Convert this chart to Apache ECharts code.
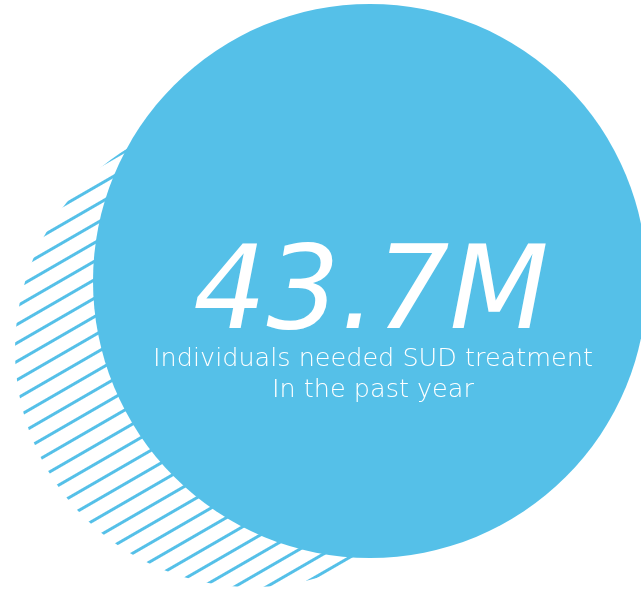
<!DOCTYPE html>
<html lang="en">
<head>
    <meta charset="UTF-8">
    <title>SUD treatment</title>
    <style>
        * { margin: 0; padding: 0; }
        #main { width: 641px; height: 593px; background: #fff; }
    </style>
</head>
<body>
    <div id="main"></div>
    <script src="https://cdn.jsdelivr.net/npm/echarts@6/dist/echarts.min.js"></script>
    <script>
        // the one figure on the card
        var statValue = [43.7];
        var statUnit = ['M'];
        var captionLines = ['Individuals needed SUD treatment', 'In the past year'];

        var blue = '#55c0e8';
        var chart = echarts.init(document.getElementById('main'));

        var option = {
            animation: false,
            title: [
                {
                    text: statValue[0] + statUnit[0],
                    left: 366, top: 236, textAlign: 'center',
                    textStyle: { color: '#fff', fontFamily: 'DejaVu Sans', fontStyle: 'italic', fontWeight: 'normal', fontSize: 115 }
                },
                {
                    text: captionLines.join('\n'),
                    left: 368, top: 339, textAlign: 'center',
                    textStyle: { color: '#fff', fontFamily: 'DejaVu Sans', fontWeight: 200, fontSize: 25.5, lineHeight: 31 }
                }
            ],
            series: [
                {
                    // hatched circle behind
                    type: 'pie',
                    silent: true,
                    z: 1,
                    center: [252, 350],
                    radius: [0, 237],
                    label: { show: false },
                    labelLine: { show: false },
                    data: [{
                        value: statValue[0],
                        itemStyle: {
                            color: '#fff',
                            decal: {
                                symbol: 'rect',
                                symbolSize: 1,
                                color: blue,
                                dashArrayX: [[1, 0]],
                                dashArrayY: [3, 13],
                                rotation: -Math.PI / 6
                            }
                        }
                    }]
                },
                {
                    type: 'pie',
                    silent: true,
                    z: 2,
                    center: [370, 281],
                    radius: [0, 277],
                    label: { show: false },
                    labelLine: { show: false },
                    itemStyle: { color: blue },
                    data: [statValue[0]]
                }
            ]
        };
        chart.setOption(option);
    </script>
</body>
</html>
